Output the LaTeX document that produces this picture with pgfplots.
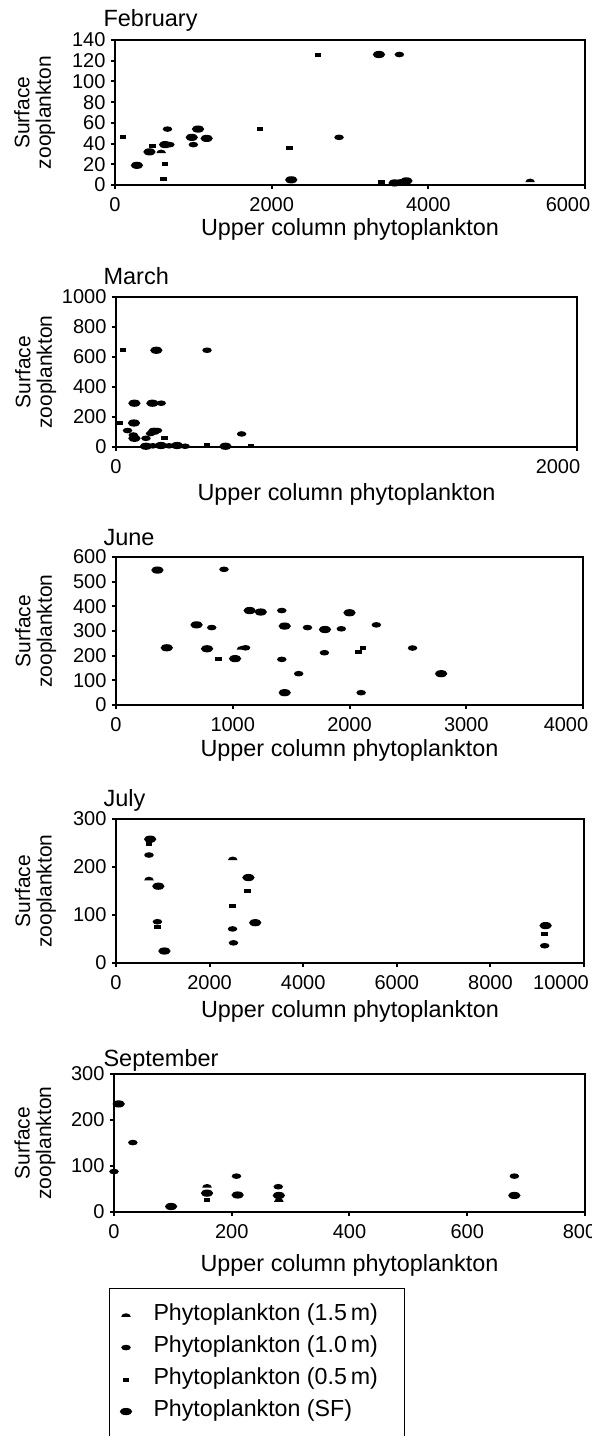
\documentclass[border=0pt]{standalone}
\usepackage{pgfplots}
\pgfplotsset{compat=1.18}
\usepackage{fontspec}
\setmainfont{Liberation Sans}

% marks: SF = large ellipse, 1.0 m = small ellipse, 0.5 m = small bar, 1.5 m = half ellipse
\pgfdeclareplotmark{sf}{\pgfpathellipse{\pgfpointorigin}{\pgfpoint{6.2pt}{0pt}}{\pgfpoint{0pt}{3.6pt}}\pgfusepathqfill}
\pgfdeclareplotmark{one}{\pgfpathellipse{\pgfpointorigin}{\pgfpoint{4.8pt}{0pt}}{\pgfpoint{0pt}{2.8pt}}\pgfusepathqfill}
\pgfdeclareplotmark{bar}{\pgfpathrectangle{\pgfpoint{-3.3pt}{-2pt}}{\pgfpoint{6.6pt}{4pt}}\pgfusepathqfill}
\pgfdeclareplotmark{half}{\pgfpathmoveto{\pgfpoint{-4.8pt}{-1.3pt}}\pgfpatharc{180}{0}{4.8pt and 3.6pt}\pgfpathclose\pgfusepathqfill}

\pgfplotsset{
  panel/.style 2 args={
    scale only axis, xmin=0, ymin=0, clip=false,
    axis line style={line width=1.6pt},
    tick style={line width=2pt, black},
    tick align=outside, major tick length=4pt,
    xtick pos=left, ytick pos=left,
    scaled x ticks=false, scaled y ticks=false,
    tick label style={font=\fontsize{20}{20}\selectfont},
    xticklabel style={yshift=-5pt},
    yticklabel style={xshift=-2pt},
    /pgf/number format/assume math mode=true,
    /pgf/number format/1000 sep={},
    xlabel={Upper column phytoplankton},
    ylabel={Surface\\zooplankton},
    xlabel style={font=\fontsize{23.4}{23.4}\selectfont, at={(axis description cs:0.5,0)}, anchor=base, yshift=-#1},
    ylabel style={font=\fontsize{21}{21.5}\selectfont, align=center, at={(axis description cs:#2,0.5)}, anchor=center},
  },
  SF/.style={only marks, mark=sf, black},
  M10/.style={only marks, mark=one, black},
  M05/.style={only marks, mark=bar, black},
  M15/.style={only marks, mark=half, black},
}
\newcommand{\ttl}[2]{\node[anchor=base west, font=\fontsize{23.5}{23.5}\selectfont] at #1 {#2};}
\newcommand{\legtxt}[1]{\makebox[241pt][l]{#1}}

\begin{document}
\begin{tikzpicture}
\path[use as bounding box] (0pt,0pt) rectangle (592pt,-1436pt);

% February
\ttl{(100pt,-26pt)}{February}
\begin{axis}[panel={50pt}{-0.171}, at={(115pt,-185pt)}, anchor=south west,
  width=470pt, height=145pt, xmax=6000, ymax=140,
  xtick={0,2000,4000,6000}, xticklabels={0,2000,4000,{6000\kern34pt}},
  ytick={0,20,...,140}]
\addplot[SF] coordinates {(280,19)(440,32)(640,39)(980,46)(1060,54)(1170,45)(2250,5)(3370,126)(3570,2)(3720,4)};
\addplot[M10] coordinates {(670,54)(700,39)(1000,39)(2860,46)(3630,126)(3640,3)};
\addplot[M05] coordinates {(100,46)(480,38)(620,6)(640,20)(1850,54)(2230,36)(2590,126)(3400,3)};
\addplot[M15] coordinates {(590,32)(5300,4)};
\end{axis}

% March
\ttl{(100pt,-284pt)}{March}
\begin{axis}[panel={53pt}{-0.174}, at={(116pt,-447pt)}, anchor=south west,
  width=461pt, height=150pt, xmax=2000, ymax=1000,
  xtick={0,2000}, xticklabels={0,{2000\kern38pt}},
  ytick={0,200,...,1000}]
\addplot[SF] coordinates {(175,645)(80,292)(158,292)(78,160)(80,58)(165,105)(130,5)(195,10)(265,10)(475,5)};
\addplot[M10] coordinates {(395,645)(196,292)(50,110)(75,80)(130,58)(150,90)(180,110)(545,87)(160,8)(230,8)(300,5)};
\addplot[M05] coordinates {(30,645)(18,160)(210,58)(395,15)(585,8)};
\end{axis}

% June
\ttl{(100pt,-545pt)}{June}
\begin{axis}[panel={51pt}{-0.172}, at={(116pt,-705pt)}, anchor=south west,
  width=467pt, height=148pt, xmax=4000, ymax=600,
  xtick={0,1000,...,4000}, xticklabels={0,1000,2000,3000,{4000\kern34pt}},
  ytick={0,100,...,600}]
\addplot[SF] coordinates {(355,547)(435,232)(690,325)(780,228)(1020,188)(1145,383)(1240,377)(1445,320)(1445,50)(1790,306)(2000,374)(2785,127)};
\addplot[M10] coordinates {(925,550)(820,314)(1420,383)(1420,185)(1565,127)(1640,314)(1785,212)(1930,309)(2100,50)(2230,325)(2540,231)(1110,232)};
\addplot[M05] coordinates {(880,188)(2075,214)(2117,231)};
\addplot[M15] coordinates {(1075,230)};
\end{axis}

% July
\ttl{(100pt,-806pt)}{July}
\begin{axis}[panel={54pt}{-0.172}, at={(116pt,-963pt)}, anchor=south west,
  width=468pt, height=144pt, xmax=10000, ymax=300,
  xtick={0,2000,...,10000}, xticklabels={0,2000,4000,6000,8000,{10000\kern46pt}},
  ytick={0,100,200,300}]
\addplot[SF] coordinates {(730,258)(905,160)(1035,25)(2830,178)(2975,84)(9180,78)};
\addplot[M10] coordinates {(705,225)(885,86)(2490,71)(2510,42)(9160,36)};
\addplot[M05] coordinates {(705,247)(890,75)(2810,149)(2490,119)(9155,61)};
\addplot[M15] coordinates {(705,175)(2495,217)};
\end{axis}

% September, with the legend
\ttl{(100pt,-1066pt)}{September}
\begin{axis}[panel={59pt}{-0.168}, at={(114pt,-1212pt)}, anchor=south west,
  width=471pt, height=138pt, xmax=800, ymax=300,
  xtick={0,200,...,800}, xticklabels={0,200,400,600,{800\kern11pt}},
  ytick={0,100,200,300},
  legend style={at={(axis description cs:-0.0106,-0.551)}, anchor=north west,
    draw=black, line width=1pt, inner xsep=10pt, inner ysep=17pt,
    font=\fontsize{23.2}{23.2}\selectfont, column sep=21pt, row sep=12pt,
    nodes={inner sep=0pt, text height=15pt, text depth=5pt}},
  legend cell align=left,
  legend image code/.code={\path (0pt,0pt) (12pt,0pt); \draw[#1] plot coordinates {(6pt,0pt)};}]
\addplot[M15] coordinates {(158,56)(280,25)};
\addlegendentry{\legtxt{Phytoplankton (1.5\,m)}}
\addplot[M10] coordinates {(32,151)(0,88)(208,78)(279,55)(680,78)};
\addlegendentry{\legtxt{Phytoplankton (1.0\,m)}}
\addplot[M05] coordinates {(158,26)};
\addlegendentry{\legtxt{Phytoplankton (0.5\,m)}}
\addplot[SF] coordinates {(8,235)(97,12)(158,41)(210,37)(280,36)(680,36)};
\addlegendentry{\legtxt{Phytoplankton (SF)}}
\addlegendimage{empty legend}
\addlegendentry{}
\end{axis}
\end{tikzpicture}
\end{document}
